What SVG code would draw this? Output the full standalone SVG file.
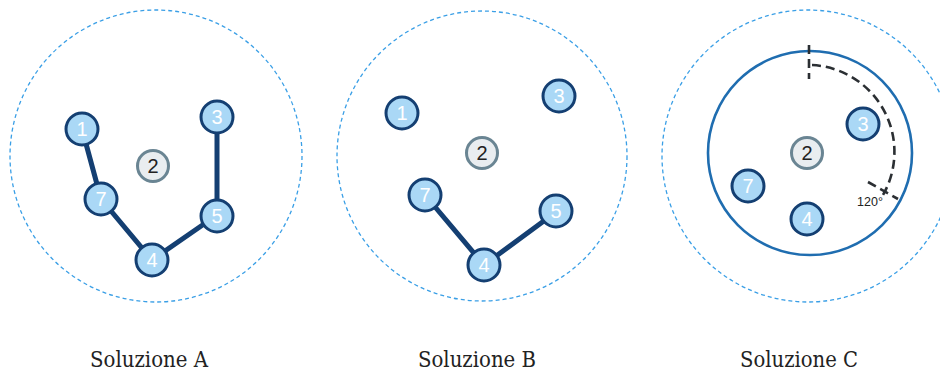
<svg xmlns="http://www.w3.org/2000/svg" width="940" height="374" viewBox="0 0 940 374">
<style>
.outer{fill:none;stroke:#3a9fe6;stroke-width:1.3;stroke-dasharray:4 3}
.n circle{fill:#aad8f6;stroke:#143f72;stroke-width:3}
.n text{fill:#fff;font-family:"Liberation Sans",Arial,sans-serif;font-size:20px;text-anchor:middle}
.g circle{fill:#e9edf0;stroke:#6a8593;stroke-width:3}
.g text{fill:#222;font-family:"Liberation Sans",Arial,sans-serif;font-size:20px;text-anchor:middle}
.e{stroke:#143f72;stroke-width:5;stroke-linecap:round;fill:none}
.cap{font-family:"DejaVu Serif Condensed","DejaVu Serif",serif;font-size:22px;fill:#222;text-anchor:middle}
.ang{fill:none;stroke:#2b2f33;stroke-width:2.6;stroke-dasharray:9 5}
</style>
<rect width="940" height="374" fill="#fff"/>
<g id="outer-circles">
<circle class="outer" cx="156" cy="156" r="146"/>
<circle class="outer" cx="482" cy="156" r="145"/>
<circle class="outer" cx="808" cy="156" r="146"/>
</g>
<g id="range-c">
<circle cx="810" cy="153" r="102" fill="none" stroke="#1f6db0" stroke-width="2.6"/>
<path class="ang" d="M809 45 V79"/>
<path class="ang" d="M812 65 A87 87 0 0 1 883 195"/>
<path class="ang" d="M868 182 L898 199"/>
<text x="870" y="206" font-family="Liberation Sans,Arial,sans-serif" font-size="12.5" fill="#222" text-anchor="middle">120°</text>
</g>
<g id="connectors">
<line class="e" x1="82" y1="129" x2="101" y2="199"/>
<line class="e" x1="101" y1="199" x2="152" y2="260"/>
<line class="e" x1="152" y1="260" x2="217" y2="215"/>
<line class="e" x1="217" y1="215" x2="217" y2="117"/>
<line class="e" x1="425" y1="195" x2="484" y2="265"/>
<line class="e" x1="484" y1="265" x2="556" y2="212"/>
</g>
<g id="A1" class="n"><circle cx="82" cy="129" r="16"/><text x="82" y="136">1</text></g>
<g id="A2" class="g"><circle cx="153" cy="166" r="15.5"/><text x="153" y="173">2</text></g>
<g id="A3" class="n"><circle cx="217" cy="117" r="16"/><text x="217" y="124">3</text></g>
<g id="A7" class="n"><circle cx="101" cy="199" r="16"/><text x="101" y="206">7</text></g>
<g id="A5" class="n"><circle cx="217" cy="216" r="16"/><text x="217" y="223">5</text></g>
<g id="A4" class="n"><circle cx="152" cy="260" r="16"/><text x="152" y="267">4</text></g>
<g id="B1" class="n"><circle cx="402" cy="113" r="16"/><text x="402" y="120">1</text></g>
<g id="B2" class="g"><circle cx="482" cy="153" r="15.5"/><text x="482" y="160">2</text></g>
<g id="B3" class="n"><circle cx="559" cy="96" r="16"/><text x="559" y="103">3</text></g>
<g id="B7" class="n"><circle cx="425" cy="195" r="16"/><text x="425" y="202">7</text></g>
<g id="B5" class="n"><circle cx="556" cy="211" r="16"/><text x="556" y="218">5</text></g>
<g id="B4" class="n"><circle cx="484" cy="265" r="16"/><text x="484" y="272">4</text></g>
<g id="C2" class="g"><circle cx="807" cy="153" r="15.5"/><text x="807" y="160">2</text></g>
<g id="C3" class="n"><circle cx="863" cy="124" r="16"/><text x="863" y="131">3</text></g>
<g id="C7" class="n"><circle cx="748" cy="186" r="16"/><text x="748" y="193">7</text></g>
<g id="C4" class="n"><circle cx="807" cy="219" r="16"/><text x="807" y="226">4</text></g>
<g id="captions">
<text class="cap" x="149" y="367" textLength="118" lengthAdjust="spacingAndGlyphs">Soluzione A</text>
<text class="cap" x="477" y="367" textLength="118" lengthAdjust="spacingAndGlyphs">Soluzione B</text>
<text class="cap" x="799" y="367" textLength="118" lengthAdjust="spacingAndGlyphs">Soluzione C</text>
</g>
</svg>
